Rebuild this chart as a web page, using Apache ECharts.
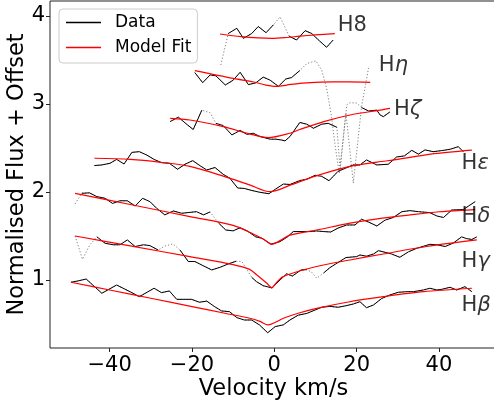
<!DOCTYPE html>
<html><head><meta charset="utf-8">
<script src="https://cdn.jsdelivr.net/npm/echarts@6/dist/echarts.min.js"></script>
<style>html,body{margin:0;padding:0;background:#fff}#c{width:494px;height:405px}</style>
</head><body><div id="c"></div>
<script>
const xTicks = [-40, -20, 0, 20, 40];
const yTicks = [1, 2, 3, 4];

// [velocity, normalised flux + offset]
const hBetaData = [[-49.4,0.974],[-47.6,0.99],[-45.7,1.011],[-41.9,0.849],[-38.3,0.943],[-34.6,0.856],[-32.8,0.81],[-29.2,0.906],[-27.4,0.856],[-25.5,0.875],[-23.7,0.78],[-21.9,0.78],[-20.1,0.78],[-18.2,0.747],[-16.4,0.76],[-14.6,0.70],[-12.8,0.648],[-10.9,0.64],[-9.1,0.572],[-7.3,0.545],[-5.5,0.545],[-3.6,0.489],[-1.6,0.40],[0.2,0.47],[2.2,0.49],[3.8,0.545],[5.8,0.60],[7.9,0.62],[9.7,0.655],[11.5,0.69],[13.5,0.70],[15.5,0.69],[17.2,0.705],[19.2,0.727],[20.8,0.753],[22.4,0.685],[24.1,0.716],[26.1,0.79],[28.1,0.83],[30.1,0.86],[32.2,0.867],[33.8,0.867],[36.2,0.886],[37.8,0.906],[39.5,0.886],[40.7,0.894],[42.7,0.917],[44.3,0.886],[46.3,0.924],[48.0,0.867]];
const hBetaModel = [[-49.4,0.974],[-40,0.886],[-30,0.792],[-20,0.698],[-12,0.622],[-6,0.565],[-3.5,0.53],[-1.5,0.489],[0.5,0.525],[2.2,0.565],[6,0.625],[10.3,0.678],[18,0.75],[26.5,0.81],[36.2,0.867],[48.0,0.906]];
const hBetaMask = [];

const hGammaData = [[-48.4,1.50],[-46.6,1.235],[-44.8,1.40],[-43.1,1.49],[-41.1,1.417],[-39.1,1.40],[-37.5,1.40],[-35.7,1.455],[-33.8,1.38],[-31.8,1.40],[-30.2,1.39],[-28.2,1.34],[-26.6,1.386],[-24.6,1.41],[-22.9,1.34],[-20.9,1.21],[-19.3,1.21],[-17.2,1.16],[-15.2,1.114],[-13.2,1.144],[-11.3,1.18],[-9.3,1.213],[-7.9,1.21],[-5.5,1.03],[-4.3,0.98],[-2.7,0.935],[-0.6,0.91],[1.4,1.0],[3.0,1.07],[4.4,1.045],[6.5,1.114],[7.9,1.117],[9.1,1.087],[10.3,1.02],[12.0,1.08],[13.5,1.14],[15.2,1.19],[17.4,1.255],[20.0,1.265],[20.8,1.284],[22.4,1.27],[24.1,1.295],[25.3,1.333],[27.3,1.31],[28.5,1.295],[30.5,1.258],[32.6,1.32],[34.6,1.36],[37.8,1.405],[39.5,1.40],[41.5,1.38],[43.5,1.42],[45.5,1.49],[46.7,1.47],[48.0,1.46],[49.2,1.49]];
const hGammaModel = [[-48.4,1.50],[-35,1.387],[-20.5,1.265],[-10,1.175],[-6,1.12],[-4.3,1.06],[-1.8,0.962],[-0.6,0.91],[0.5,0.97],[2.2,1.04],[10,1.15],[18.4,1.227],[26.5,1.295],[37,1.38],[49.2,1.455]];
const hGammaMask = [[-48.4,-43.1],[-28.2,-22.9],[-9.3,-5.5],[7.9,12.0]];

const hDeltaData = [[-48.4,1.864],[-46.8,1.985],[-44.9,1.99],[-43.1,1.947],[-41.1,1.928],[-39.3,1.87],[-37.5,1.90],[-35.7,1.90],[-33.8,1.84],[-32.0,1.928],[-30.2,1.89],[-28.6,1.815],[-26.6,1.74],[-24.5,1.784],[-22.5,1.758],[-20.5,1.768],[-18.9,1.776],[-17.2,1.74],[-15.6,1.773],[-13.6,1.65],[-11.8,1.568],[-10.0,1.558],[-8.3,1.594],[-6.5,1.555],[-4.5,1.49],[-3.0,1.474],[-0.8,1.407],[1.4,1.436],[3.2,1.49],[4.6,1.55],[6.7,1.55],[8.7,1.55],[10.3,1.557],[12.0,1.55],[13.7,1.545],[15.5,1.59],[17.6,1.625],[19.6,1.625],[21.2,1.69],[22.8,1.66],[24.9,1.614],[26.9,1.68],[28.9,1.71],[31.0,1.776],[33.0,1.788],[35.0,1.776],[37.8,1.765],[39.5,1.727],[41.1,1.71],[43.1,1.795],[45.9,1.80],[47.5,1.85],[48.8,1.89]];
const hDeltaModel = [[-48.4,1.985],[-35,1.858],[-20.5,1.72],[-10,1.62],[-5,1.52],[-2.5,1.46],[-0.6,1.405],[1.5,1.45],[3.8,1.51],[10.3,1.568],[18.4,1.645],[25,1.695],[33,1.74],[40,1.775],[48.8,1.80]];
const hDeltaMask = [[-48.4,-46.8],[-15.6,-13.6]];

const hEpsilonData = [[-43.7,2.30],[-41.9,2.307],[-39.9,2.326],[-38.3,2.37],[-36.5,2.318],[-34.6,2.45],[-32.8,2.458],[-31.0,2.42],[-29.2,2.37],[-27.4,2.333],[-25.5,2.326],[-23.5,2.258],[-21.7,2.315],[-19.8,2.356],[-18.1,2.30],[-16.4,2.25],[-14.4,2.278],[-12.4,2.20],[-10.8,2.156],[-8.9,2.045],[-7.3,2.04],[-5.7,2.02],[-3.6,1.997],[-1.3,1.98],[0.2,2.03],[2.2,2.09],[3.8,2.085],[6.2,2.13],[7.9,2.144],[9.9,2.19],[11.5,2.178],[13.3,2.128],[15.5,2.235],[17.3,2.27],[19.2,2.307],[20.8,2.307],[22.4,2.364],[24.9,2.307],[27.7,2.315],[29.7,2.397],[31.6,2.41],[33.4,2.473],[35.0,2.43],[36.6,2.478],[38.6,2.458],[40.7,2.47],[42.7,2.485],[44.7,2.515],[45.9,2.458]];
const hEpsilonModel = [[-43.7,2.383],[-35,2.37],[-28,2.34],[-20.5,2.29],[-12.4,2.18],[-6,2.08],[-1,2.003],[4,2.08],[10,2.18],[18.4,2.29],[25,2.34],[30,2.37],[38,2.43],[48,2.475]];
const hEpsilonMask = [];

const hZetaData = [[-25.3,2.80],[-23.3,2.85],[-21.3,2.77],[-19.7,2.71],[-17.6,2.93],[-15.6,2.90],[-14.2,2.78],[-12.4,2.754],[-10.3,2.648],[-8.3,2.70],[-6.7,2.655],[-5.1,2.667],[-3.5,2.63],[-1.0,2.60],[0.4,2.60],[1.8,2.59],[2.6,2.58],[3.8,2.63],[6.2,2.79],[7.9,2.77],[9.5,2.724],[11.5,2.77],[13.1,2.78],[15.2,2.735],[16.0,2.25],[17.6,2.99],[18.4,3.015],[20.0,3.01],[21.2,2.96],[22.9,2.92],[24.9,2.93],[25.7,2.875],[26.5,2.856],[28.1,2.91]];
const hZetaModel = [[-25.3,2.837],[-20.5,2.818],[-12.4,2.742],[-6,2.66],[-1.5,2.617],[3.8,2.667],[6.2,2.71],[12,2.80],[18.4,2.875],[25.7,2.93],[28.1,2.95]];
const hZetaMask = [[-17.6,-14.2],[15.2,21.2]];

const hEtaData = [[-19.3,3.356],[-17.4,3.242],[-15.6,3.33],[-14.2,3.32],[-11.9,3.216],[-10.0,3.27],[-8.3,3.36],[-6.3,3.22],[-4.5,3.24],[-2.7,3.305],[-1.0,3.27],[1.0,3.20],[2.8,3.284],[4.2,3.30],[6.2,3.38],[7.9,3.46],[10.1,3.49],[11.5,3.386],[12.7,3.18],[13.9,2.856],[14.7,2.55],[15.8,2.21],[17.4,2.90],[19.2,2.10],[21.2,2.97],[22.9,3.41]];
const hEtaModel = [[-19.3,3.378],[-10,3.29],[-5,3.25],[-2,3.215],[0.6,3.20],[3,3.215],[6.2,3.235],[10,3.245],[14.3,3.25],[18,3.25],[23.3,3.246]];
const hEtaMask = [[6.2,22.9]];

const h8Data = [[-13.0,3.443],[-11.2,3.80],[-9.1,3.86],[-7.5,3.746],[-5.5,3.80],[-3.9,3.88],[-2.0,3.81],[-0.2,3.90],[1.4,3.99],[3.6,3.77],[5.4,3.727],[7.5,3.833],[9.1,3.80],[10.9,3.72],[12.7,3.644],[14.3,3.727]];
const h8Model = [[-13.2,3.795],[-8,3.765],[-4,3.75],[-0.5,3.745],[3,3.755],[6.2,3.77],[10,3.785],[14.7,3.80]];
const h8Mask = [[-13.0,-11.2],[-0.2,3.6]];

const lineNames = ['Hβ','Hγ','Hδ','Hε','Hζ','Hη','H8'];
const labelPos = [[45.5,0.714],[45.5,1.206],[45.5,1.72],[45.5,2.32],[29.1,2.94],[25.4,3.44],[15.4,3.89]];

const spectra = [
  [hBetaData, hBetaModel, hBetaMask],
  [hGammaData, hGammaModel, hGammaMask],
  [hDeltaData, hDeltaModel, hDeltaMask],
  [hEpsilonData, hEpsilonModel, hEpsilonMask],
  [hZetaData, hZetaModel, hZetaMask],
  [hEtaData, hEtaModel, hEtaMask],
  [h8Data, h8Model, h8Mask]
];

function isMasked(a, b, mask) {
  return mask.some(r => a[0] >= r[0] - 1e-6 && b[0] <= r[1] + 1e-6);
}
function solidPart(data, mask) {
  const out = [];
  for (let i = 0; i < data.length; i++) {
    out.push(data[i]);
    if (i < data.length - 1 && isMasked(data[i], data[i + 1], mask)) {
      out.push([(data[i][0] + data[i + 1][0]) / 2, '-']);
    }
  }
  return out;
}

const FONT = 'DejaVu Sans';
const series = [];
spectra.forEach(([d, m, mask]) => {
  series.push({
    name: 'masked', type: 'line', data: d, symbol: 'none', z: 1, silent: true,
    lineStyle: { color: '#808080', width: 1, type: [1.2, 2] }, itemStyle: { color: '#808080' }
  });
  series.push({
    name: 'Data', type: 'line', data: solidPart(d, mask), symbol: 'none', z: 2,
    connectNulls: false,
    lineStyle: { color: '#000', width: 1 }, itemStyle: { color: '#000' }
  });
  series.push({
    name: 'Model Fit', type: 'line', data: m, symbol: 'none', z: 3, smooth: 0.3,
    lineStyle: { color: '#ff0000', width: 1.2 }, itemStyle: { color: '#ff0000' }
  });
});
series.push({
  name: 'labels', type: 'scatter', symbolSize: 0, z: 4, silent: true,
  data: labelPos.map((p, i) => ({ value: p, name: lineNames[i] })),
  label: {
    show: true, position: 'right', distance: 0,
    formatter: p => p.name === 'H8' ? '{h|H8}' : '{h|H}{g|' + p.name.slice(1) + '}',
    rich: {
      h: { fontFamily: FONT, fontSize: 21, color: '#000' },
      g: { fontFamily: FONT, fontSize: 21, fontStyle: 'italic', color: '#000' }
    }
  }
});

const fmt = v => v < 0 ? '\u2212' + Math.abs(v) : String(v);
const chart = echarts.init(document.getElementById('c'), null, { renderer: 'canvas' });
chart.setOption({
  animation: false,
  backgroundColor: '#fff',
  grid: { left: 50, top: 1, width: 447, height: 347, show: true, borderColor: '#222', borderWidth: 1,
          backgroundColor: 'transparent', containLabel: false, outerBoundsMode: 'none' },
  legend: {
    data: ['Data', 'Model Fit'], orient: 'vertical', left: 59, top: 9,
    icon: 'rect', itemWidth: 35, itemHeight: 1.4,
    padding: [5, 6, 7, 7], itemGap: 8,
    backgroundColor: 'rgba(255,255,255,0.85)', borderColor: '#cccccc', borderWidth: 1, borderRadius: 4,
    textStyle: { fontFamily: FONT, fontSize: 17, color: '#000', padding: [0, 0, 0, 9] },
    selectedMode: false
  },
  xAxis: {
    type: 'value', min: -54.49, max: 54.1,
    name: 'Velocity km/s', nameLocation: 'middle', nameGap: 30, nameMoveOverlap: false,
    nameTextStyle: { fontFamily: FONT, fontSize: 22.5, color: '#000' },
    axisLine: { show: false, onZero: false }, splitLine: { show: false },
    axisTick: { show: true, length: 4, customValues: xTicks, lineStyle: { color: '#222' } },
    axisLabel: { customValues: xTicks, formatter: fmt, fontFamily: FONT, fontSize: 21, color: '#000', margin: 7 }
  },
  yAxis: {
    type: 'value', min: 0.227, max: 4.170,
    name: 'Normalised Flux + Offset', nameLocation: 'middle', nameGap: 21, nameMoveOverlap: false,
    nameTextStyle: { fontFamily: FONT, fontSize: 22.5, color: '#000' },
    axisLine: { show: false, onZero: false }, splitLine: { show: false },
    axisTick: { show: true, length: 4, customValues: yTicks, lineStyle: { color: '#222' } },
    axisLabel: { customValues: yTicks, formatter: fmt, fontFamily: FONT, fontSize: 21, color: '#000', margin: 5 }
  },
  series: series
});
</script></body></html>
